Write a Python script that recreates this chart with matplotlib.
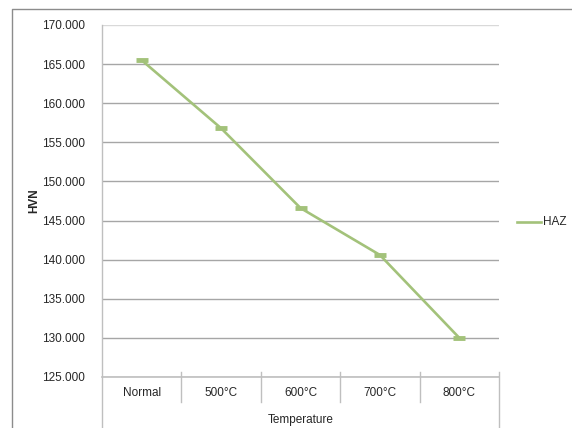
# HVN hardness vs temperature, Excel-style line chart

import matplotlib
matplotlib.use("Agg")
import matplotlib.pyplot as plt
from matplotlib.lines import Line2D

categories = ["Normal", "500°C", "600°C", "700°C", "800°C"]
haz_values = [165.5, 156.8, 146.6, 140.6, 130.0]
y_ticks = [125, 130, 135, 140, 145, 150, 155, 160, 165, 170]

LINE_COLOR = "#A3C27A"
GRID_COLOR = "#A6A6A6"
FRAME_COLOR = "#8C8C8C"
TEXT_COLOR = "#262626"

plt.rcParams["font.family"] = ["Liberation Sans", "DejaVu Sans"]

W, H = 572, 428
fig = plt.figure(figsize=(W / 100, H / 100), dpi=100)

x0, x1, y0, y1 = 102, 499, 25, 377   # plot area in pixels
ax = fig.add_axes([x0 / W, 1 - y1 / H, (x1 - x0) / W, (y1 - y0) / H])

xs = list(range(len(categories)))
ax.plot(xs, haz_values, color=LINE_COLOR, lw=1.9, marker="_",
        markersize=8, markeredgewidth=3.5, solid_capstyle="butt")

ax.set_xlim(-0.5, len(categories) - 0.5)
ax.set_ylim(125, 170)
ax.set_yticks(y_ticks)
ax.set_yticklabels([f"{v:.3f}" for v in y_ticks], fontsize=8.5, color=TEXT_COLOR)
ax.tick_params(axis="y", length=0, pad=12)
ax.set_xticks([])
ax.grid(axis="y", color=GRID_COLOR, lw=1)
ax.get_ygridlines()[-1].set_color("#D9D9D9")
ax.set_axisbelow(True)

for s in ["top", "right", "left"]:
    ax.spines[s].set_visible(False)
ax.spines["bottom"].set_color("#BFBFBF")
ax.spines["bottom"].set_linewidth(1.2)

def px(x, y):
    return x / W, 1 - y / H

# left spine running down to the bottom edge
fig.add_artist(Line2D(*zip(px(x0, y0), px(x0, H)), color="#BFBFBF", lw=1))
# category separators
step = (x1 - x0) / len(categories)
for k in range(1, len(categories) + 1):
    xx = x0 + k * step
    ybot = H if k == len(categories) else 402
    fig.add_artist(Line2D(*zip(px(xx, 372), px(xx, ybot)), color="#BFBFBF", lw=1))

# category labels
for i, c in enumerate(categories):
    fig.text(*px(x0 + (i + 0.5) * step, 393), c, ha="center", va="center",
             fontsize=8.5, color=TEXT_COLOR)

fig.text(*px((x0 + x1) / 2, 420), "Temperature", ha="center", va="center",
         fontsize=8.5, color=TEXT_COLOR)
fig.text(*px(34, (y0 + y1) / 2), "HVN", ha="center", va="center",
         rotation=90, fontsize=8.5, fontweight="bold", color=TEXT_COLOR)

# legend
fig.add_artist(Line2D(*zip(px(517, 222), px(541, 222)), color=LINE_COLOR, lw=1.9))
fig.text(*px(543, 222), "HAZ", ha="left", va="center", fontsize=8.5, color=TEXT_COLOR)

# outer chart border
fig.add_artist(Line2D(*zip(px(12, H), px(12, 9), px(W, 9)), color=FRAME_COLOR, lw=1))

fig.savefig("out.png", dpi=100, facecolor="white")
